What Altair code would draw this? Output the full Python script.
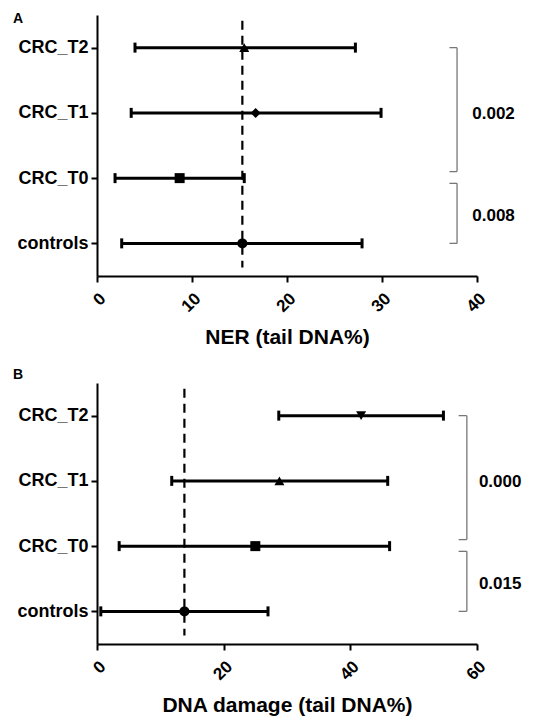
import altair as alt
import pandas as pd

# ---- data ----
groups = ["controls", "CRC_T0", "CRC_T1", "CRC_T2"]

ner_mean = [15.3, 8.7, 16.7, 15.5]
ner_low = [2.6, 1.9, 3.6, 4.0]
ner_high = [27.9, 15.5, 29.9, 27.2]
ner_shapes = ["circle", "square", "diamond", "triangle-up"]
ner_ref = 15.3
ner_pvals = ["0.002", "0.008"]

dmg_mean = [13.8, 25.0, 28.8, 41.7]
dmg_low = [0.6, 3.5, 11.8, 28.7]
dmg_high = [27.0, 46.2, 45.9, 54.7]
dmg_shapes = ["circle", "square", "triangle-up", "triangle-down"]
dmg_ref = 13.8
dmg_pvals = ["0.000", "0.015"]

FONT = "Liberation Sans"
label_expr = "[" + ",".join("'%s'" % g for g in groups) + "][datum.value]"


def panel(letter, means, lows, highs, shapes, ref, pvals, xmax, xstep, xtitle,
          bx, bl, px, letter_y):
    df = pd.DataFrame({
        "idx": list(range(len(groups))),
        "group": groups,
        "mean": means,
        "low": lows,
        "high": highs,
        "shape": shapes,
    })
    xsc = alt.Scale(domain=[0, xmax], nice=False, zero=False)
    ysc = alt.Scale(domain=[-0.5, 3.5], nice=False, zero=False)
    xaxis = alt.Axis(values=list(range(0, xmax + 1, xstep)), labelAngle=-45,
                     title=xtitle, grid=False)
    yaxis = alt.Axis(values=[0, 1, 2, 3], labelExpr=label_expr, title=None,
                     grid=False)
    base = alt.Chart(df)
    bars = base.mark_rule(color="black", strokeWidth=3).encode(
        x=alt.X("low:Q", scale=xsc, axis=xaxis),
        x2="high:Q",
        y=alt.Y("idx:Q", scale=ysc, axis=yaxis),
    )
    cap_lo = base.mark_rule(color="black", strokeWidth=3, yOffset=-5, y2Offset=5).encode(
        x=alt.X("low:Q", scale=xsc), y=alt.Y("idx:Q", scale=ysc), y2="idx:Q")
    cap_hi = base.mark_rule(color="black", strokeWidth=3, yOffset=-5, y2Offset=5).encode(
        x=alt.X("high:Q", scale=xsc), y=alt.Y("idx:Q", scale=ysc), y2="idx:Q")
    pts = base.mark_point(filled=True, color="black", opacity=1, size=100).encode(
        x=alt.X("mean:Q", scale=xsc),
        y=alt.Y("idx:Q", scale=ysc),
        shape=alt.Shape("shape:N", scale=None),
    )
    refdf = pd.DataFrame({"x": [ref], "y": [3.41], "y2": [-0.37]})
    refline = alt.Chart(refdf).mark_rule(color="black", strokeWidth=2.2,
                                         strokeDash=[9, 6]).encode(
        x=alt.X("x:Q", scale=xsc), y=alt.Y("y:Q", scale=ysc), y2="y2:Q")

    # brackets: (top, bottom) in row units
    spans = [(3.0, 1.1), (0.92, 0.0)]
    segs = []
    for top, bot in spans:
        segs.append({"x": bx, "x2": bx, "y": top, "y2": bot})
        segs.append({"x": bl, "x2": bx, "y": top, "y2": top})
        segs.append({"x": bl, "x2": bx, "y": bot, "y2": bot})
    segdf = pd.DataFrame(segs)
    brackets = alt.Chart(segdf).mark_rule(color="#777777", strokeWidth=1.3, clip=False).encode(
        x=alt.X("x:Q", scale=xsc), x2="x2:Q",
        y=alt.Y("y:Q", scale=ysc), y2="y2:Q")
    pdf = pd.DataFrame({"x": [px, px], "y": [1.98, 0.42], "t": pvals})
    ptext = alt.Chart(pdf).mark_text(align="left", baseline="middle", font=FONT,
                                     fontWeight="bold", fontSize=17, color="black",
                                     clip=False).encode(
        x=alt.X("x:Q", scale=xsc), y=alt.Y("y:Q", scale=ysc), text="t:N")
    lab = alt.Chart(pd.DataFrame({"t": [letter]})).mark_text(
        align="left", baseline="middle", font=FONT, fontWeight="bold", fontSize=14,
        color="black").encode(x=alt.value(-84), y=alt.value(letter_y), text="t:N")

    return alt.layer(bars, cap_lo, cap_hi, refline, pts, brackets, ptext, lab).properties(
        width=380, height=261)


pa = panel("A", ner_mean, ner_low, ner_high, ner_shapes, ner_ref, ner_pvals,
           40, 10, "NER (tail DNA%)", 37.9, 37.1, 39.5, 4)
pb = panel("B", dmg_mean, dmg_low, dmg_high, dmg_shapes, dmg_ref, dmg_pvals,
           60, 20, "DNA damage (tail DNA%)", 58.4, 57.1, 60.3, -8)

chart = alt.vconcat(pa, pb, spacing=20).properties(
    padding={"top": 4, "left": 5, "right": 5, "bottom": 5}
).configure_view(stroke=None).configure_axis(
    domainColor="black", domainWidth=2, tickColor="black", tickWidth=2, tickSize=6,
    labelFont=FONT, labelFontWeight="bold", labelColor="black",
    titleFont=FONT, titleFontWeight="bold", titleColor="black", titleFontSize=21,
).configure_axisY(labelFontSize=18, labelPadding=3).configure_axisX(
    labelFontSize=17, labelPadding=8, titlePadding=12)

chart.save("out.html", embed_options={"renderer": "svg", "actions": False})
